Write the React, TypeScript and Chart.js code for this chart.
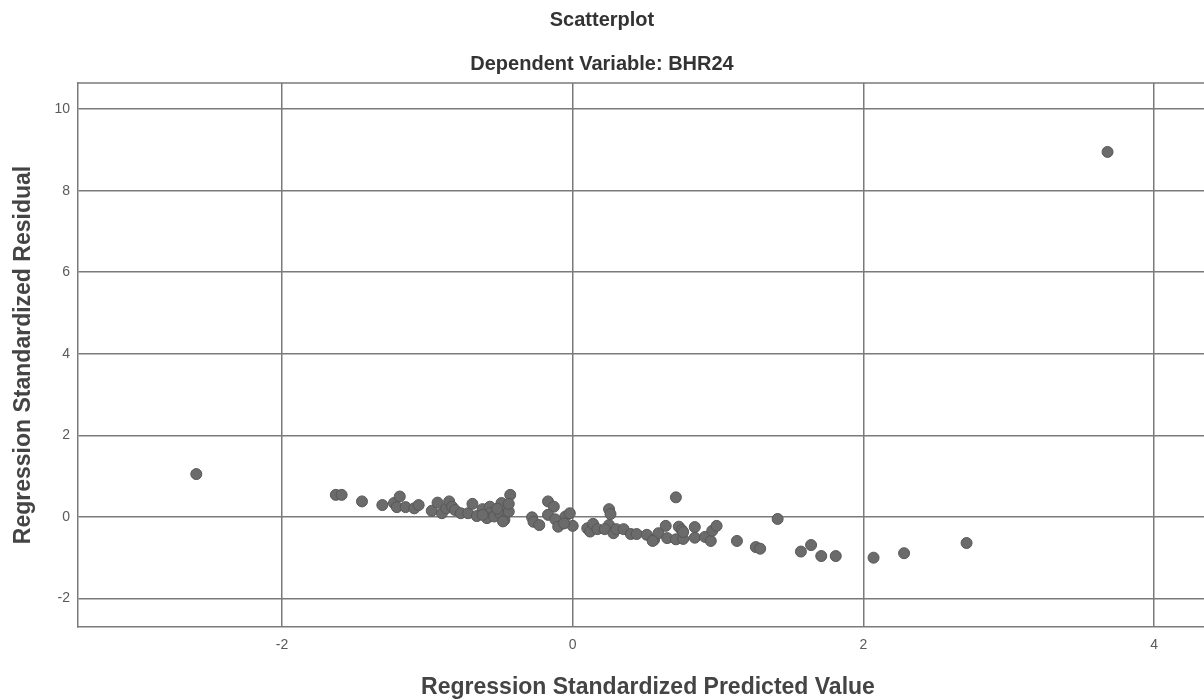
import React, { useEffect, useRef } from "react";
import { Chart, registerables } from "chart.js";

Chart.register(...registerables);

const predictedValues: number[] = [
  3.68, -2.59, -1.63, -1.59, -1.45, -1.31, -1.23, -1.19, -1.21, -1.15,
  -1.09, -1.06, -0.97, -0.93, -0.90, -0.87, -0.85, -0.83, -0.81, -0.77,
  -0.72, -0.69, -0.66, -0.62, -0.57, -0.57, -0.59, -0.54, -0.49, -0.50,
  -0.47, -0.44, -0.43, -0.44, -0.48, -0.28, -0.27, -0.23, -0.17, -0.13,
  -0.17, -0.12, -0.10, -0.05, -0.02, 0.00, -0.06, 0.10, 0.12, 0.14,
  0.17, 0.25, 0.26, 0.25, 0.22, 0.28, 0.30, 0.35, 0.40, 0.44,
  0.51, 0.56, 0.59, 0.64, 0.65, 0.71, 0.73, 0.71, 0.75, 0.76,
  0.84, 0.84, 0.91, 0.95, 0.96, 0.99, 1.13, 1.26, 1.29, 1.41,
  1.57, 1.64, 1.71, 1.81, 2.07, 2.28, 2.71, -0.52, -0.62, 0.55,
  0.76,
];

const residualValues: number[] = [
  8.95, 1.05, 0.54, 0.54, 0.38, 0.29, 0.34, 0.50, 0.24, 0.24,
  0.21, 0.29, 0.15, 0.35, 0.09, 0.21, 0.38, 0.25, 0.17, 0.09,
  0.09, 0.32, 0.02, 0.19, 0.25, 0.09, -0.03, 0.01, 0.34, 0.09,
  -0.07, 0.13, 0.54, 0.32, -0.11, -0.01, -0.12, -0.20, 0.38, 0.25,
  0.05, -0.06, -0.24, 0.01, 0.09, -0.22, -0.16, -0.28, -0.36, -0.17,
  -0.30, 0.19, 0.07, -0.20, -0.30, -0.40, -0.30, -0.30, -0.42, -0.42,
  -0.44, -0.56, -0.40, -0.22, -0.52, -0.55, -0.24, 0.48, -0.32, -0.54,
  -0.25, -0.51, -0.49, -0.59, -0.34, -0.22, -0.59, -0.74, -0.78, -0.05,
  -0.85, -0.69, -0.96, -0.96, -1.00, -0.89, -0.64, 0.20, 0.05, -0.59,
  -0.37,
];

const xAxisRange: number[] = [-3.404, 4.44];
const yAxisRange: number[] = [-2.70, 10.64];
const tickStep = 2;

const chartTitle = "Scatterplot";
const chartSubtitle = "Dependent Variable: BHR24";
const xAxisTitle = "Regression Standardized Predicted Value";
const yAxisTitle = "Regression Standardized Residual";

const GRID = "#7a7a7a";
const FONT = "'Liberation Sans', Arial, sans-serif";
const PAGE_WIDTH = 1204;

const frame = {
  id: "frame",
  afterDraw(chart: any) {
    const { ctx, chartArea } = chart;
    ctx.save();
    ctx.strokeStyle = GRID;
    ctx.lineWidth = 1.5;
    ctx.beginPath();
    ctx.moveTo(chartArea.left, chartArea.top);
    ctx.lineTo(chartArea.right, chartArea.top);
    ctx.stroke();
    ctx.fillStyle = "#333";
    ctx.textAlign = "center";
    ctx.textBaseline = "middle";
    ctx.font = `bold 20px ${FONT}`;
    ctx.fillText(chartTitle, PAGE_WIDTH / 2, 20);
    ctx.fillText(chartSubtitle, PAGE_WIDTH / 2, 64);
    ctx.restore();
  },
};

export default function App() {
  const ref = useRef<HTMLCanvasElement>(null);

  useEffect(() => {
    if (!ref.current) return;
    const points = predictedValues.map((x, i) => ({ x, y: residualValues[i] }));
    const chart = new Chart(ref.current, {
      type: "scatter",
      data: {
        datasets: [
          {
            data: points,
            pointRadius: 5.5,
            pointHoverRadius: 5.5,
            backgroundColor: "#6b6b6b",
            borderColor: "#585858",
            borderWidth: 1,
          },
        ],
      },
      options: {
        responsive: false,
        animation: false,
        layout: { padding: { top: 83, left: 0, right: 12, bottom: 0 } },
        plugins: {
          legend: { display: false },
          tooltip: { enabled: false },
          title: { display: false },
        },
        scales: {
          x: {
            type: "linear",
            min: xAxisRange[0],
            max: xAxisRange[1],
            afterFit: (s: any) => {
              s.height = 73;
            },
            ticks: {
              stepSize: tickStep,
              includeBounds: false,
              padding: 10,
              color: "#5a5a5a",
              font: { family: FONT, size: 14 },
            },
            grid: { color: GRID, lineWidth: 1.5, drawTicks: false },
            border: { color: GRID, width: 1.5 },
            title: {
              display: true,
              text: xAxisTitle,
              color: "#444",
              font: { family: FONT, size: 23, weight: "bold" },
              padding: { top: 0, bottom: -1 },
            },
          },
          y: {
            type: "linear",
            min: yAxisRange[0],
            max: yAxisRange[1],
            afterFit: (s: any) => {
              s.width = 78;
            },
            ticks: {
              stepSize: tickStep,
              includeBounds: false,
              padding: 8,
              color: "#5a5a5a",
              font: { family: FONT, size: 14 },
            },
            grid: { color: GRID, lineWidth: 1.5, drawTicks: false },
            border: { color: GRID, width: 1.5 },
            title: {
              display: true,
              text: yAxisTitle,
              color: "#444",
              font: { family: FONT, size: 23, weight: "bold" },
              padding: { top: 9.5, bottom: 0 },
            },
          },
        },
      },
      plugins: [frame],
    });
    return () => chart.destroy();
  }, []);

  return (
    <div
      style={{
        position: "absolute",
        left: 0,
        top: 0,
        width: PAGE_WIDTH,
        height: 700,
        overflow: "hidden",
        background: "#fff",
      }}
    >
      <canvas ref={ref} width={1230} height={700} style={{ display: "block" }} />
    </div>
  );
}
